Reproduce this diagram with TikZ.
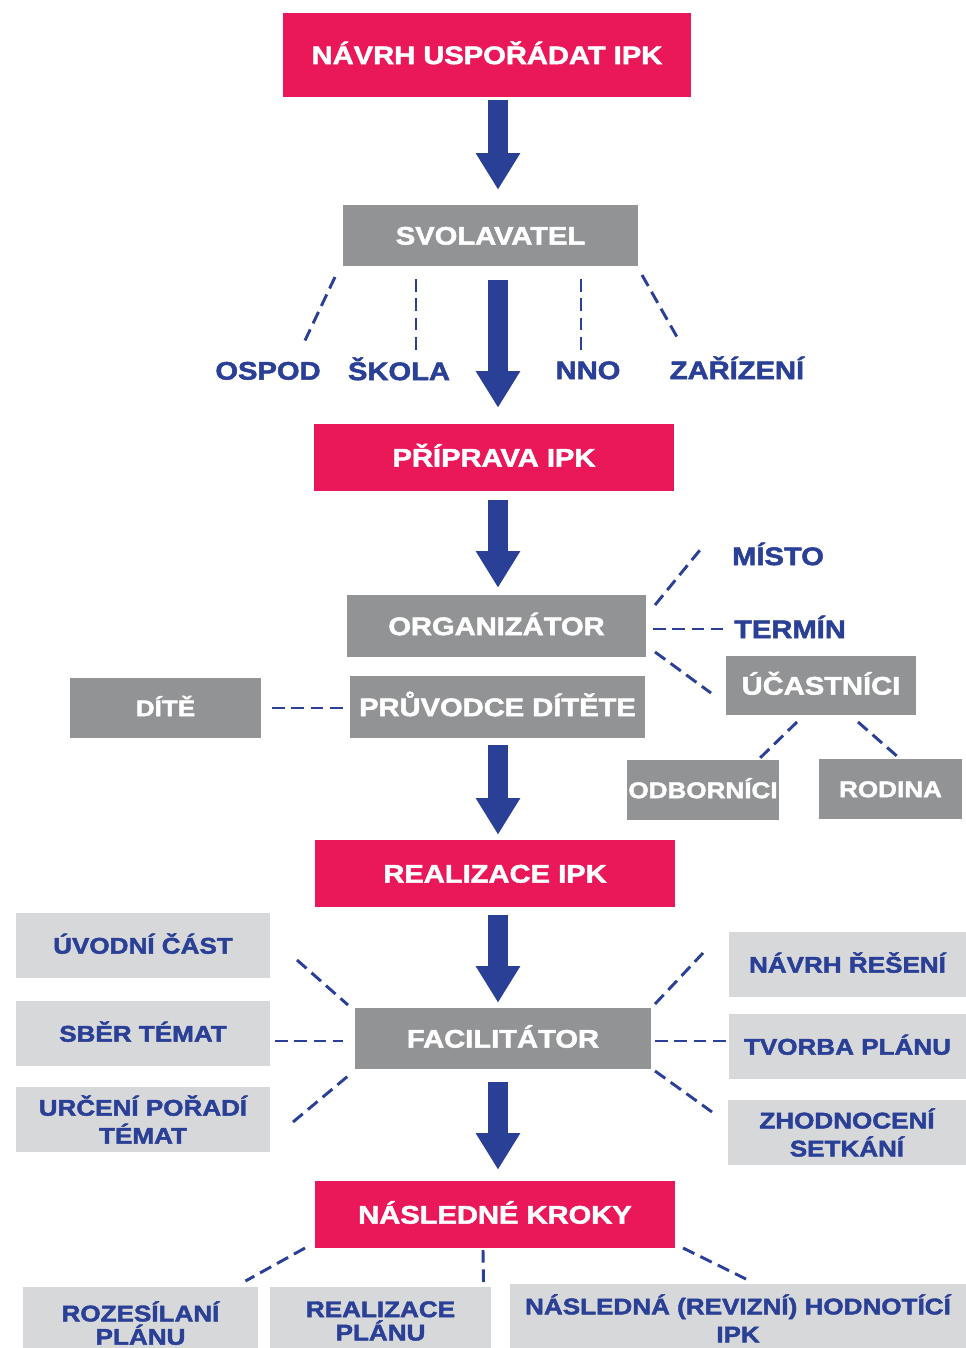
\documentclass[tikz,border=0pt]{standalone}
\usepackage{fontspec}
\setmainfont{Liberation Sans}[FakeStretch=1.15,BoldFeatures={FakeBold=2}]
\usetikzlibrary{arrows.meta}
\definecolor{ipkred}{RGB}{234,24,88}
\definecolor{ipkgray}{RGB}{146,147,149}
\definecolor{ipklight}{RGB}{215,216,217}
\definecolor{ipkblue}{RGB}{42,63,150}
\begin{document}
\begin{tikzpicture}[x=0.75pt,y=-0.75pt,
	redbox/.style={fill=ipkred,text=white,font=\fontsize{19}{22}\selectfont\bfseries,
		minimum width=270pt,minimum height=50.25pt,text height=13.6pt,text depth=0pt,inner sep=0pt},
	graybox/.style={fill=ipkgray,text=white,font=\fontsize{19}{22}\selectfont\bfseries,
		minimum height=46.5pt,text height=13.6pt,text depth=0pt,inner sep=0pt},
	smallgray/.style={graybox,font=\fontsize{17}{20}\selectfont\bfseries,text height=12.2pt},
	lightbox/.style={fill=ipklight,text=ipkblue,font=\fontsize{17}{21}\selectfont\bfseries,
		minimum width=190.5pt,minimum height=48.75pt,inner sep=0pt},
	oneline/.style={text height=12.2pt,text depth=0pt},
	bluetext/.style={text=ipkblue,font=\fontsize{19}{22}\selectfont\bfseries,
		text height=13.6pt,text depth=0pt,inner sep=0pt},
	bigarrow/.style={draw=ipkblue,line width=15pt,-{Triangle[width=31.5pt,length=27.5pt]}},
	dashlink/.style={draw=ipkblue,line width=2.2pt,dash pattern=on 9.5pt off 5pt}]
	\clip (0,0) rectangle (966,1348);
	\coordinate (spine) at (498,0);

	\node[redbox,minimum width=306pt,minimum height=63pt] (navrh) at (487,55) {NÁVRH USPOŘÁDAT IPK};
	\node[graybox,minimum width=221.25pt,minimum height=45.75pt] (svol) at (490.5,235.5) {SVOLAVATEL};
	\node[bluetext] (ospod) at (268,370.5) {OSPOD};
	\node[bluetext] (skola) at (399,371) {ŠKOLA};
	\node[bluetext] (nno) at (588,370) {NNO};
	\node[bluetext] (zariz) at (737,370) {ZAŘÍZENÍ};
	\node[redbox] (prip) at (494,457.5) {PŘÍPRAVA IPK};

	\node[graybox,minimum width=224.25pt] (org) at (496.5,626) {ORGANIZÁTOR};
	\node[bluetext] (misto) at (778,556) {MÍSTO};
	\node[bluetext] (termin) at (790,629) {TERMÍN};
	\node[graybox,minimum width=142.5pt,minimum height=44.25pt] (ucast) at (821,685.5) {ÚČASTNÍCI};
	\node[smallgray,minimum width=114pt,minimum height=45pt] (odb) at (703,790) {ODBORNÍCI};
	\node[smallgray,minimum width=107.25pt,minimum height=45pt] (rodina) at (890.5,789) {RODINA};
	\node[smallgray,minimum width=143.25pt,minimum height=45pt] (dite) at (165.5,708) {DÍTĚ};
	\node[graybox,minimum width=221.25pt] (pruv) at (497.5,707) {PRŮVODCE DÍTĚTE};
	\node[redbox] (real) at (495,873.5) {REALIZACE IPK};

	\node[graybox,minimum width=222pt,minimum height=45.75pt] (fac) at (503,1038.5) {FACILITÁTOR};
	\node[lightbox,oneline] (uvod) at (143,945.5) {ÚVODNÍ ČÁST};
	\node[lightbox,oneline] (sber) at (143,1033.5) {SBĚR TÉMAT};
	\node[lightbox,align=center] (urceni) at (143,1119.5) {URČENÍ POŘADÍ\\TÉMAT};
	\node[lightbox,oneline,minimum width=177.75pt] (navrhres) at (847.5,964.5) {NÁVRH ŘEŠENÍ};
	\node[lightbox,oneline,minimum width=177.75pt] (tvorba) at (847.5,1046.5) {TVORBA PLÁNU};
	\node[lightbox,align=center,minimum width=178.5pt] (zhodn) at (847,1132.5) {ZHODNOCENÍ\\SETKÁNÍ};
	\node[redbox] (nasl) at (495,1214.5) {NÁSLEDNÉ KROKY};

	\node[lightbox,align=center,anchor=north,minimum width=176.25pt,minimum height=0pt,
		font=\fontsize{17}{17.5}\selectfont\bfseries,inner ysep=10.5pt,text depth=16pt] (roz) at (140.5,1287) {ROZESÍLANÍ\\PLÁNU};
	\node[lightbox,align=center,anchor=north,minimum width=165.75pt,minimum height=0pt,
		font=\fontsize{17}{17.5}\selectfont\bfseries,inner ysep=10.5pt,text depth=16pt] (reali) at (380.5,1287) {REALIZACE\\PLÁNU};
	\node[lightbox,align=center,anchor=north,minimum width=342pt,minimum height=0pt,
		inner ysep=7.5pt,text depth=16pt] (naslrev) at (738,1284) {NÁSLEDNÁ (REVIZNÍ) HODNOTÍCÍ\\IPK};

	\draw[bigarrow,shorten <=2.25pt,shorten >=11.25pt] (navrh.south -| spine) -- (svol.north -| spine);
	\draw[bigarrow,shorten <=10.5pt,shorten >=12pt] (svol.south -| spine) -- (prip.north -| spine);
	\draw[bigarrow,shorten <=6.75pt,shorten >=5.25pt] (prip.south -| spine) -- (org.north -| spine);
	\draw[bigarrow,shorten <=5.25pt,shorten >=3.75pt] (pruv.south -| spine) -- (real.north -| spine);
	\draw[bigarrow,shorten <=6pt,shorten >=3.75pt] (real.south -| spine) -- (fac.north -| spine);
	\draw[bigarrow,shorten <=9.75pt,shorten >=8.25pt] (fac.south -| spine) -- (nasl.north -| spine);

	\draw[dashlink] ([shift={(-155.5,41.5)}]svol.center) -- ([shift={(37,-30)}]ospod.center);
	\draw[dashlink] ([shift={(-74.5,43.5)}]svol.center) -- ([shift={(17,-21)}]skola.center);
	\draw[dashlink] ([shift={(90.5,43.5)}]svol.center) -- ([shift={(-7,-20)}]nno.center);
	\draw[dashlink] ([shift={(151.5,39.5)}]svol.center) -- ([shift={(-60,-33)}]zariz.center);

	\draw[dashlink] ([shift={(158.5,-21)}]org.center) -- ([shift={(-78,-6)}]misto.center);
	\draw[dashlink] ([shift={(156.5,3)}]org.center) -- ([shift={(-67,0)}]termin.center);
	\draw[dashlink] ([shift={(158.5,26)}]org.center) -- ([shift={(-110,7.5)}]ucast.center);
	\draw[dashlink] ([shift={(-24,36.5)}]ucast.center) -- ([shift={(57,-32)}]odb.center);
	\draw[dashlink] ([shift={(37,36.5)}]ucast.center) -- ([shift={(7.5,-32)}]rodina.center);
	\draw[dashlink] ([shift={(106.5,0)}]dite.center) -- ([shift={(-154.5,1)}]pruv.center);

	\draw[dashlink] ([shift={(154,14.5)}]uvod.center) -- ([shift={(-155,-33.5)}]fac.center);
	\draw[dashlink] ([shift={(132,7.5)}]sber.center) -- ([shift={(-160,2.5)}]fac.center);
	\draw[dashlink] ([shift={(150,2.5)}]urceni.center) -- ([shift={(-155,37.5)}]fac.center);
	\draw[dashlink] ([shift={(152,-34.5)}]fac.center) -- ([shift={(-144.5,-11.5)}]navrhres.center);
	\draw[dashlink] ([shift={(152,2.5)}]fac.center) -- ([shift={(-121.5,-5.5)}]tvorba.center);
	\draw[dashlink] ([shift={(152,32.5)}]fac.center) -- ([shift={(-135,-20.5)}]zhodn.center);

	\draw[dashlink] ([shift={(-190,33.5)}]nasl.center) -- ([shift={(105,-6)}]roz.north);
	\draw[dashlink] ([shift={(-12,35.5)}]nasl.center) -- ([shift={(103,-4)}]reali.north);
	\draw[dashlink] ([shift={(188,33.5)}]nasl.center) -- ([shift={(8,-5)}]naslrev.north);
\end{tikzpicture}
\end{document}
